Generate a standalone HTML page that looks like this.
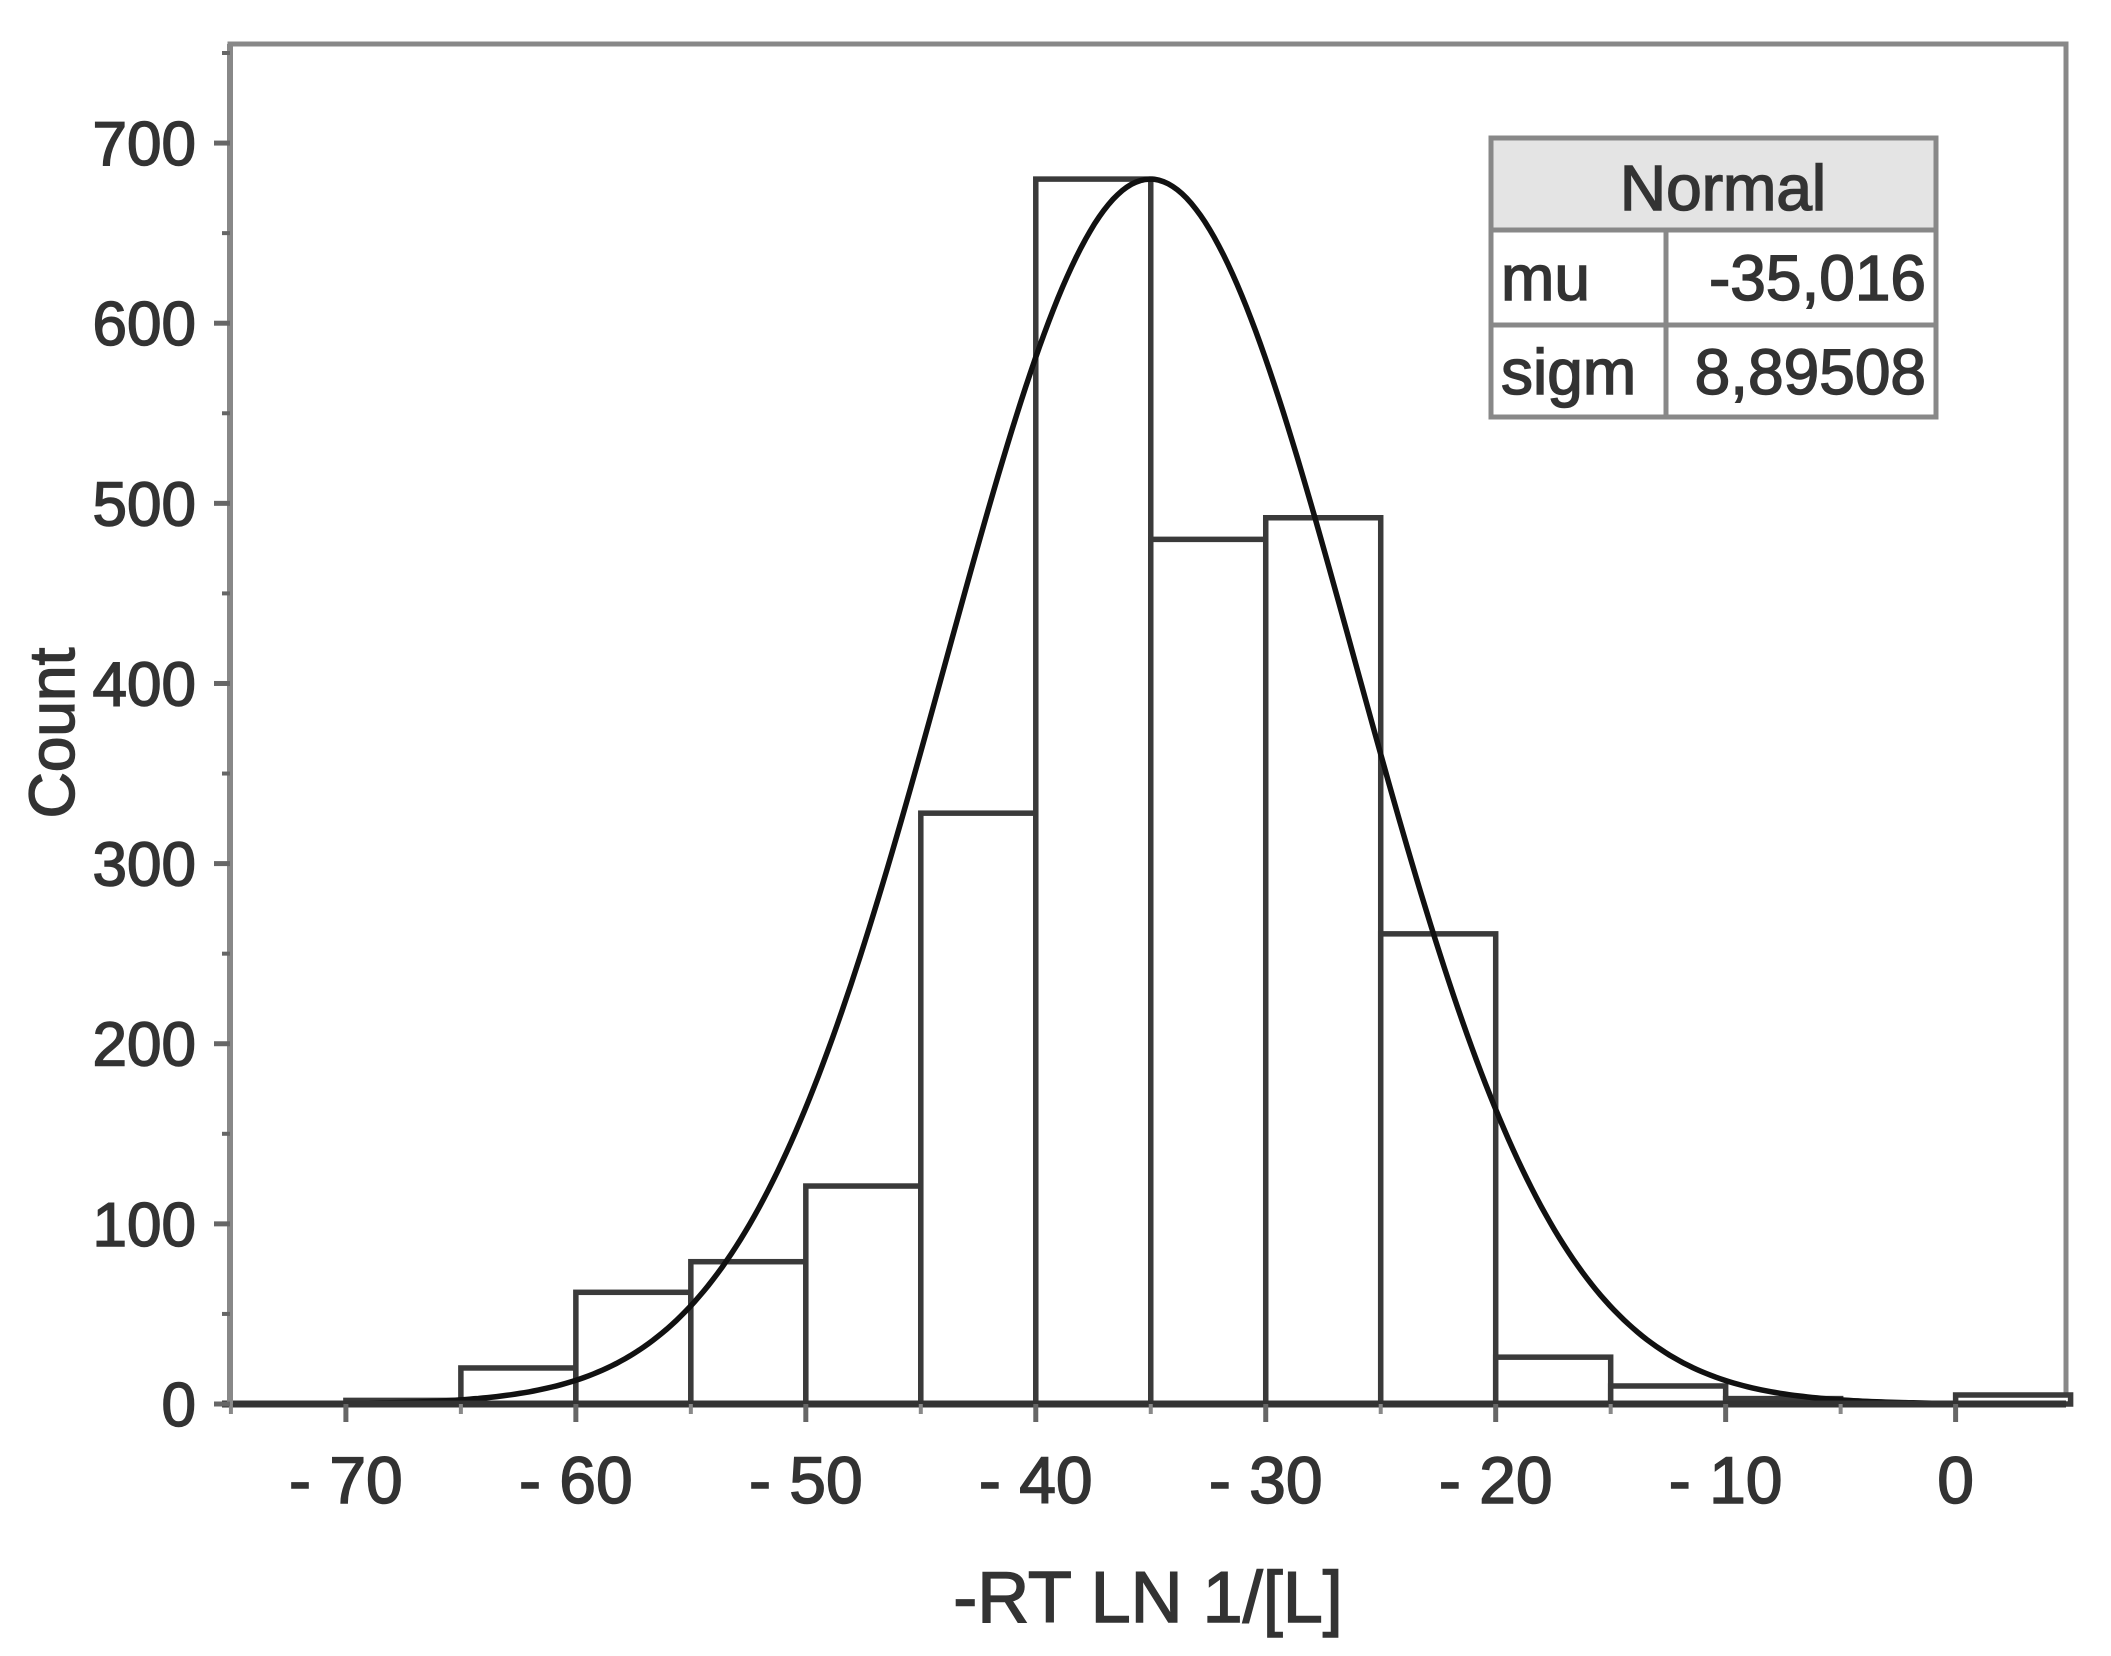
<!DOCTYPE html>
<html><head><meta charset="utf-8"><style>
html,body{margin:0;padding:0;background:#fff;}
svg{display:block;}
text{font-family:"Liberation Sans",sans-serif;fill:#333;stroke:#333;stroke-width:1.5px;}
</style></head><body>
<svg width="2111" height="1656" viewBox="0 0 2111 1656">
<g id="chart"></g>
</svg>
<script>
const binStarts=[-75,-70,-65,-60,-55,-50,-45,-40,-35,-30,-25,-20,-15,-10,-5,0];
const counts=[0,2,20,62,79,121,328,680,480,492,261,26,10,3,0,5];
const binWidth=5;
const mu=-35.016, sigma=8.89508, peak=680;
const xTicks=[-70,-60,-50,-40,-30,-20,-10,0];
const xTickLabels=["- 70","- 60","- 50","- 40","- 30","- 20","- 10","0"];
const yTicks=[0,100,200,300,400,500,600,700];
const L=230,R=2066,T=44,B=1404;
const xMin=-75.04,xMax=4.8,yMax=755;
function X(v){return L+(v-xMin)/(xMax-xMin)*(R-L);}
function Y(v){return B-v/yMax*(B-T);}
const NS="http://www.w3.org/2000/svg";
const g=document.getElementById('chart');
function el(tag,attrs,parent){const e=document.createElementNS(NS,tag);for(const k in attrs)e.setAttribute(k,attrs[k]);(parent||g).appendChild(e);return e;}
const frame=el('rect',{x:L,y:T,width:R-L,height:B-T,fill:'none',stroke:'#888','stroke-width':5});


for(let i=0;i<binStarts.length;i++){
 const r=el('rect',{x:X(binStarts[i]),y:Y(counts[i]),width:X(binStarts[i]+binWidth)-X(binStarts[i]),height:B-Y(counts[i]),fill:'#fff',stroke:'#3a3a3a','stroke-width':5.5});
 
 
}
let d='';
for(let v=xMin;v<=xMax;v+=0.2){const c=peak*Math.exp(-0.5*Math.pow((v-mu)/sigma,2));d+=(d?'L':'M')+X(v).toFixed(1)+','+Y(c).toFixed(1);}
const curve=el('path',{d:d,fill:'none',stroke:'#111','stroke-width':5.5});


const xa=el('line',{x1:L-8,y1:B,x2:R,y2:B,stroke:'#333','stroke-width':7});


const ya=el('line',{x1:L,y1:T,x2:L,y2:B,stroke:'#888','stroke-width':6});


for(let i=0;i<xTicks.length;i++){
 const t=el('line',{x1:X(xTicks[i]),y1:B,x2:X(xTicks[i]),y2:B+18,stroke:'#666','stroke-width':5});
 
 
 const lb=el('text',{x:X(xTicks[i]),y:1503,'font-size':66,'text-anchor':'middle'});
 lb.textContent=xTickLabels[i];
 
 
}
for(let v=-75;v<=0;v+=10){
 const m=el('line',{x1:X(v),y1:B,x2:X(v),y2:B+10,stroke:'#888','stroke-width':4});
 
 
}
for(let i=0;i<yTicks.length;i++){
 const t=el('line',{x1:L-16,y1:Y(yTicks[i]),x2:L,y2:Y(yTicks[i]),stroke:'#666','stroke-width':5});
 
 
 const m=el('line',{x1:L-8,y1:Y(yTicks[i]+50),x2:L,y2:Y(yTicks[i]+50),stroke:'#666','stroke-width':4});
 
 
 const lb=el('text',{x:196,y:Y(yTicks[i])+22,'font-size':62,'text-anchor':'end'});
 lb.textContent=yTicks[i];
 
 
}
const xt=el('text',{x:1148,y:1622,'font-size':72,'text-anchor':'middle'});
xt.textContent='-RT LN 1/[L]';


const yt=el('text',{x:0,y:0,'font-size':64,'text-anchor':'middle',transform:'translate(74,733) rotate(-90)'});
yt.textContent='Count';


const tg=el('g',{});


el('rect',{x:1491,y:138,width:445,height:92,fill:'#e4e4e4'},tg);
el('rect',{x:1491,y:138,width:445,height:279,fill:'none',stroke:'#888','stroke-width':5},tg);
el('line',{x1:1491,y1:230,x2:1936,y2:230,stroke:'#888','stroke-width':5},tg);
el('line',{x1:1491,y1:325,x2:1936,y2:325,stroke:'#888','stroke-width':5},tg);
el('line',{x1:1666,y1:230,x2:1666,y2:417,stroke:'#888','stroke-width':5},tg);
const cells=[['Normal',1723,210,'middle'],['mu',1501,300,'start'],['-35,016',1926,300,'end'],['sigm',1501,394,'start'],['8,89508',1926,394,'end']];
const names=['table-header','mu-label','mu-value','sigma-label','sigma-value'];
for(let i=0;i<cells.length;i++){
 const c=cells[i];
 const t=el('text',{x:c[1],y:c[2],'font-size':64,'text-anchor':c[3]},tg);
 t.textContent=c[0];
 
 
}
</script>
</body></html>
